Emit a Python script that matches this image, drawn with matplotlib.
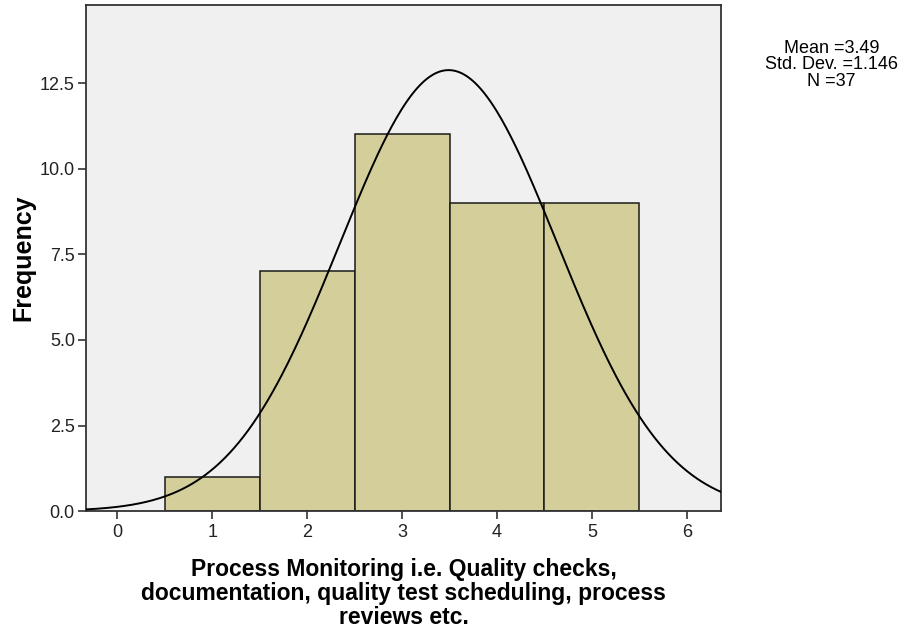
import numpy as np
import matplotlib
matplotlib.use('Agg')
import matplotlib.pyplot as plt

plt.rcParams['font.family'] = ['Liberation Sans', 'DejaVu Sans']

# histogram data (bin centres and counts)
values = [1, 2, 3, 4, 5]
counts = [1, 7, 11, 9, 9]
mean = 3.49
std = 1.146
n = 37

fig = plt.figure(figsize=(9.07, 6.31), dpi=100)
ax = fig.add_axes([0.0948, 0.19, 0.7002, 0.802])
ax.set_facecolor('#f0f0f0')

ax.bar(values, counts, width=1.0, color='#d3ce9a', edgecolor='#1a1a1a', linewidth=1.1, zorder=2)

# normal curve scaled to counts
xs = np.linspace(-0.33, 6.36, 400)
ys = n * 1.0 * np.exp(-0.5 * ((xs - mean) / std) ** 2) / (std * np.sqrt(2 * np.pi))
ax.plot(xs, ys, color='black', linewidth=1.4, zorder=3)

ax.set_xlim(-0.33, 6.36)
ax.set_ylim(0, 14.78)
ax.set_xticks(range(0, 7))
ax.set_yticks([0, 2.5, 5.0, 7.5, 10.0, 12.5])
ax.set_yticklabels(['0.0', '2.5', '5.0', '7.5', '10.0', '12.5'])
ax.tick_params(labelsize=13, length=6, width=1.2, colors='#333333', labelcolor='#222222')
ax.tick_params(axis='y', pad=2)
for s in ax.spines.values():
    s.set_color('#333333')
    s.set_linewidth(1.3)

ax.set_ylabel('Frequency', fontsize=18, fontweight='bold', labelpad=3)
ax.set_xlabel('Process Monitoring i.e. Quality checks,\ndocumentation, quality test scheduling, process\nreviews etc.',
              fontsize=16.5, fontweight='bold', linespacing=1.05, labelpad=12)

fig.text(0.917, 0.897, 'Mean =3.49\nStd. Dev. =1.146\nN =37', ha='center', va='center',
         fontsize=13, linespacing=0.97)

plt.savefig('out.png')
